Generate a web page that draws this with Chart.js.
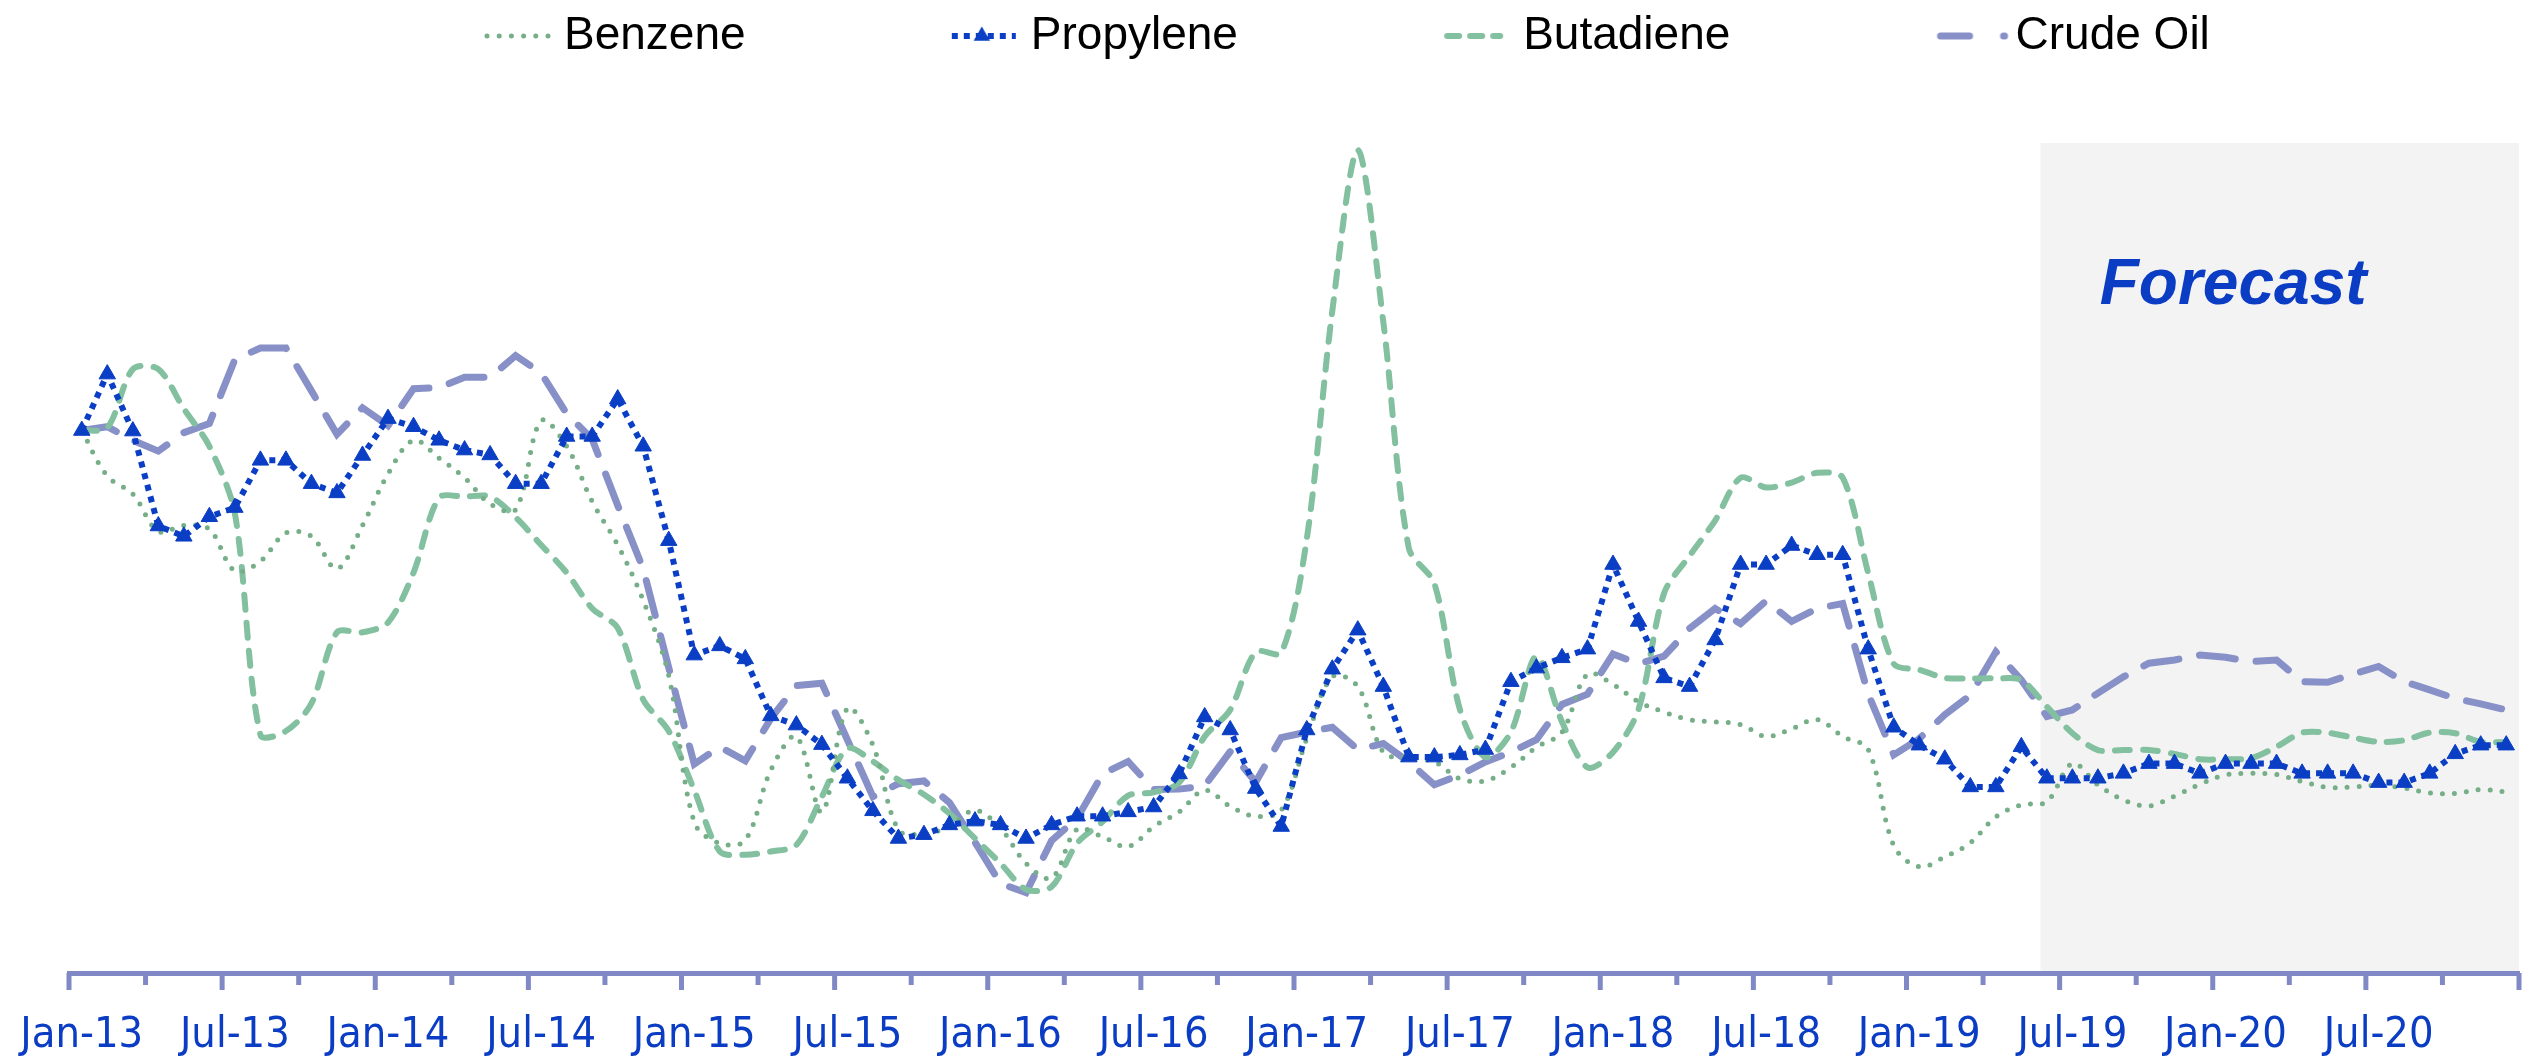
<!DOCTYPE html>
<html>
<head>
<meta charset="utf-8">
<script src="https://cdn.jsdelivr.net/npm/chart.js@4.4.1/dist/chart.umd.min.js"></script>
<style>
  html, body { margin: 0; padding: 0; background: #ffffff; }
  #wrap { width: 2544px; height: 1058px; }
</style>
</head>
<body>
<div id="wrap"><canvas id="chart" width="2544" height="1058"></canvas></div>
<script>
const years = ['13', '14', '15', '16', '17', '18', '19', '20'];
const monthNames = ['Jan', 'Feb', 'Mar', 'Apr', 'May', 'Jun', 'Jul', 'Aug', 'Sep', 'Oct', 'Nov', 'Dec'];
const months = years.flatMap(y => monthNames.map(m => m + '-' + y));

// index, Jan-13 = 100 (one row per year)
const benzene = [
    100.0, 91.6, 88.3, 81.4, 82.5, 81.8, 74.1, 75.9, 81.1, 80.5, 74.5, 82.5,
    92.0, 98.2, 94.9, 91.3, 86.5, 85.4, 101.8, 97.1, 86.9, 78.9, 68.7, 54.8,
    27.8, 23.9, 24.5, 37.4, 43.6, 29.7, 48.8, 42.0, 26.4, 25.7, 27.0, 30.0,
    26.7, 20.2, 17.5, 26.5, 25.1, 23.3, 27.0, 29.7, 33.7, 30.7, 28.9, 30.0,
    43.2, 54.6, 52.8, 40.7, 39.6, 38.9, 35.8, 35.4, 37.9, 41.6, 44.4, 55.1,
    53.2, 50.0, 48.1, 46.7, 46.3, 45.8, 43.6, 45.0, 46.7, 43.6, 41.2, 23.5,
    19.6, 21.4, 24.0, 28.8, 31.0, 31.6, 38.6, 34.7, 31.9, 30.8, 32.6, 34.8,
    36.5, 36.8, 36.6, 35.3, 34.2, 34.3, 34.6, 34.1, 33.2, 33.1, 33.8, 33.4
];
const propylene = [
    100.0, 110.4, 99.9, 82.4, 80.5, 84.1, 85.8, 94.5, 94.5, 90.2, 88.5, 95.4,
    102.2, 100.7, 98.2, 96.4, 95.5, 90.2, 90.2, 98.9, 98.9, 105.8, 97.1, 79.7,
    58.6, 60.3, 57.9, 47.4, 45.7, 42.1, 35.9, 29.9, 24.8, 25.5, 27.3, 28.0,
    27.3, 24.8, 27.3, 28.9, 28.9, 29.7, 30.6, 36.7, 47.2, 44.8, 34.0, 27.0,
    44.8, 56.0, 63.2, 52.8, 39.8, 39.8, 40.2, 41.2, 53.7, 56.2, 58.1, 59.7,
    75.3, 64.8, 54.4, 52.8, 61.4, 75.3, 75.3, 78.8, 77.1, 77.1, 59.7, 45.3,
    42.0, 39.4, 34.3, 34.3, 41.7, 35.9, 35.9, 35.9, 36.8, 38.6, 38.6, 36.8,
    38.6, 38.6, 38.6, 36.8, 36.8, 36.8, 35.1, 35.1, 36.8, 40.4, 42.0, 42.0
];
const butadiene = [
    100.0, 100.5, 111.3, 111.3, 104.0, 97.1, 84.7, 43.9, 44.6, 49.7, 62.8, 62.8,
    64.6, 73.8, 87.6, 87.8, 87.8, 84.0, 78.9, 73.8, 67.2, 63.6, 50.4, 44.6,
    33.7, 22.4, 21.8, 22.4, 23.6, 32.5, 41.4, 39.0, 35.6, 32.9, 29.4, 24.8,
    20.2, 15.4, 15.9, 23.9, 27.9, 32.7, 33.3, 35.1, 43.6, 48.5, 59.2, 59.0,
    80.0, 122.0, 151.7, 120.0, 78.3, 71.8, 48.6, 39.8, 44.4, 58.4, 46.3, 37.9,
    40.7, 48.6, 70.0, 76.9, 83.4, 91.3, 89.5, 90.4, 92.2, 91.3, 73.7, 57.0,
    55.9, 54.4, 54.3, 54.3, 54.0, 49.1, 44.2, 41.1, 41.1, 41.1, 40.4, 39.4,
    39.4, 39.6, 41.7, 44.3, 44.3, 43.4, 42.6, 42.9, 44.3, 44.2, 42.6, 42.6
];
const crudeOil = [
    100.0, 100.7, 98.2, 96.2, 99.6, 101.3, 113.1, 115.2, 115.2, 107.3, 99.3, 104.2,
    100.9, 107.7, 107.9, 109.8, 109.8, 113.8, 110.6, 103.1, 98.4, 86.2, 74.5, 56.3,
    38.5, 41.7, 39.1, 46.9, 53.0, 53.4, 43.0, 32.5, 34.9, 35.4, 31.4, 24.1,
    16.5, 14.8, 24.4, 28.5, 36.7, 39.0, 33.8, 33.9, 34.5, 40.8, 35.2, 43.4,
    44.4, 45.3, 41.2, 42.3, 38.9, 34.7, 36.5, 38.9, 40.7, 43.0, 49.5, 51.4,
    58.8, 57.0, 58.4, 63.5, 67.2, 64.4, 68.6, 64.8, 67.2, 68.1, 51.4, 40.2,
    43.2, 47.6, 51.2, 59.2, 54.0, 47.3, 48.5, 51.6, 54.6, 57.1, 57.7, 58.6,
    58.2, 57.4, 57.7, 53.7, 53.6, 55.1, 56.5, 53.7, 52.2, 50.6, 49.6, 48.5
];

const forecastFrom = 'Jun-19';

const benzeneColor = '#76AE88';
const propyleneColor = '#0A3EC4';
const butadieneColor = '#82C09F';
const crudeColor = '#8890C8';
const axisColor = '#8088C6';
const labelBlue = '#0A3CC4';

// little legend icons
function makeMarker(paint) {
    const c = document.createElement('canvas');
    c.width = 96;
    c.height = 24;
    const g = c.getContext('2d');
    g.beginPath();
    paint(g);
    return c;
}
const legendMarkers = [
    makeMarker(g => {
        g.strokeStyle = benzeneColor; g.lineWidth = 5; g.lineCap = 'round';
        g.setLineDash([0, 12.2]);
        g.moveTo(22, 12); g.lineTo(84, 12); g.stroke();
    }),
    makeMarker(g => {
        g.strokeStyle = propyleneColor; g.lineWidth = 6;
        g.setLineDash([6, 6]);
        g.moveTo(20, 12); g.lineTo(84, 12); g.stroke();
        g.setLineDash([]);
        g.fillStyle = propyleneColor;
        g.beginPath();
        g.moveTo(50, 2.5); g.lineTo(58.2, 16.75); g.lineTo(41.8, 16.75); g.closePath();
        g.fill();
    }),
    makeMarker(g => {
        g.strokeStyle = butadieneColor; g.lineWidth = 6; g.lineCap = 'round';
        g.setLineDash([12, 11]);
        g.moveTo(23, 12); g.lineTo(76, 12); g.stroke();
    }),
    makeMarker(g => {
        g.strokeStyle = crudeColor; g.lineWidth = 7; g.lineCap = 'round';
        g.moveTo(24, 12); g.lineTo(53, 12);
        g.moveTo(87, 12); g.lineTo(88, 12);
        g.stroke();
    })
];
const legendPad = '\u2002'.repeat(8) + '\u2009';
const legendStartX = 485;
const plotTop = 143;

const legendSpacing = {
    id: 'legendSpacing',
    beforeLayout(chart) {
        const lg = chart.legend;
        if (lg && !lg._fitWrapped) {
            const fit = lg.fit;
            lg.fit = function () {
                fit.call(this);
                this.height = plotTop;
            };
            lg._fitWrapped = true;
        }
    },
    beforeDraw(chart) {
        const lg = chart.legend;
        lg.lineWidths[0] = lg.left + lg.right + lg.options.labels.padding - 2 * legendStartX;
    }
};

const forecastShade = {
    id: 'forecastShade',
    beforeDraw(chart) {
        const {ctx, chartArea, scales: {x, y}} = chart;
        const step = x.getPixelForValue(1) - x.getPixelForValue(0);
        const left = x.getPixelForValue(months.indexOf(forecastFrom)) - 0.25 * step;
        ctx.save();
        ctx.fillStyle = '#F3F3F3';
        ctx.fillRect(left, chartArea.top, chartArea.right - left, chartArea.bottom - chartArea.top);
        ctx.font = 'italic bold 64px "Liberation Sans", Arial, sans-serif';
        ctx.fillStyle = labelBlue;
        ctx.textAlign = 'center';
        ctx.textBaseline = 'alphabetic';
        ctx.fillText('Forecast', x.getPixelForValue(84.3), y.getPixelForValue(123.3));
        ctx.restore();
    }
};

// tick marks on category boundaries: every quarter, longer every half year
const axisTicks = {
    id: 'axisTicks',
    afterDraw(chart) {
        const {ctx, scales: {x}} = chart;
        const step = x.getPixelForValue(1) - x.getPixelForValue(0);
        const start = x.getPixelForValue(0) - step / 2;
        ctx.save();
        ctx.strokeStyle = axisColor;
        ctx.lineWidth = 5;
        for (let i = 0; i <= months.length; i += 3) {
            const px = start + i * step;
            ctx.beginPath();
            ctx.moveTo(px, x.top);
            ctx.lineTo(px, x.top + (i % 6 === 0 ? 17 : 12));
            ctx.stroke();
        }
        ctx.restore();
    }
};

new Chart(document.getElementById('chart'), {
    type: 'line',
    data: {
        labels: months,
        datasets: [{
            label: 'Benzene',
            data: benzene,
            borderColor: benzeneColor,
            borderWidth: 5,
            borderDash: [0, 12],
            borderCapStyle: 'round',
            tension: 0.35,
            pointRadius: 0,
            fill: false,
            order: 1
        }, {
            label: 'Propylene',
            data: propylene,
            borderColor: propyleneColor,
            borderWidth: 6,
            borderDash: [6, 6],
            tension: 0,
            pointStyle: 'triangle',
            pointRadius: 9.5,
            pointBackgroundColor: propyleneColor,
            pointBorderColor: propyleneColor,
            pointBorderWidth: 1,
            fill: false,
            order: 0
        }, {
            label: 'Butadiene',
            data: butadiene,
            borderColor: butadieneColor,
            borderWidth: 6,
            borderDash: [15, 13],
            borderCapStyle: 'round',
            tension: 0.3,
            pointRadius: 0,
            fill: false,
            order: 2
        }, {
            label: 'Crude Oil',
            data: crudeOil,
            borderColor: crudeColor,
            borderWidth: 7,
            borderDash: [36, 21],
            borderCapStyle: 'round',
            tension: 0,
            pointRadius: 0,
            fill: false,
            order: 3
        }]
    },
    options: {
        responsive: false,
        animation: false,
        devicePixelRatio: 1,
        events: [],
        layout: { padding: { left: 69, right: 25, top: 0, bottom: 0 } },
        plugins: {
            legend: {
                position: 'top',
                align: 'center',
                labels: {
                    usePointStyle: true,
                    pointStyleWidth: 56,
                    padding: 13,
                    color: '#000000',
                    font: { family: '"Liberation Sans", Arial, sans-serif', size: 46 },
                    sort: (a, b) => a.datasetIndex - b.datasetIndex,
                    generateLabels(chart) {
                        const items = Chart.defaults.plugins.legend.labels.generateLabels(chart);
                        return items.map(it => {
                            it.pointStyle = legendMarkers[it.datasetIndex];
                            if (it.datasetIndex < 3) it.text = it.text + legendPad;
                            return it;
                        });
                    }
                }
            },
            tooltip: { enabled: false }
        },
        scales: {
            x: {
                offset: true,
                grid: {
                    display: true,
                    drawOnChartArea: false,
                    drawTicks: true,
                    tickLength: 40,
                    color: 'transparent',
                    tickColor: 'transparent'
                },
                border: { display: true, color: axisColor, width: 5 },
                ticks: {
                    autoSkip: false,
                    maxRotation: 0,
                    minRotation: 0,
                    padding: 0,
                    color: labelBlue,
                    font: { family: '"Liberation Sans Narrow", "DejaVu Sans Condensed", sans-serif', size: 43, lineHeight: '45px' },
                    callback: (v, i) => (i % 6 === 0 ? months[i] : '')
                }
            },
            y: {
                display: false,
                min: 0,
                max: 153
            }
        }
    },
    plugins: [legendSpacing, forecastShade, axisTicks]
});
</script>
</body>
</html>
